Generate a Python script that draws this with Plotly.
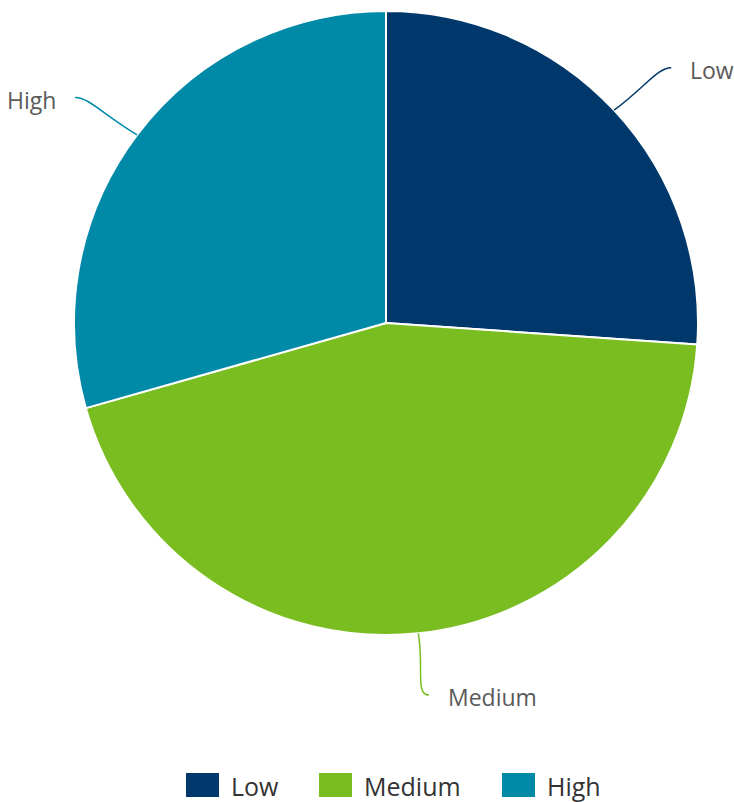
import math
import plotly.graph_objects as go

categories = ["Low", "Medium", "High"]
values = [26.1, 44.5, 29.4]
colors = ["#00386B", "#7ABD21", "#008AA8"]

W, H = 734, 802
CX, CY, R = 386, 323, 312

def px(x):
    return x / W

def py(y):
    return 1 - y / H

fig = go.Figure()
fig.add_trace(go.Pie(
    labels=categories, values=values, sort=False, direction="clockwise", rotation=0,
    marker=dict(colors=colors, line=dict(color="white", width=2)),
    textinfo="none", hoverinfo="label+value", showlegend=False,
    domain=dict(x=[px(CX - R), px(CX + R)], y=[py(CY + R), py(CY - R)]),
))

shapes = []
annotations = []
total = sum(values)
cum = 0.0
for cat, v, col in zip(categories, values, colors):
    mid = (cum + v / 2) / total * 2 * math.pi
    cum += v
    s, c = math.sin(mid), -math.cos(mid)
    sign = 1 if s >= 0 else -1
    x0, y0 = CX + R * s, CY + R * c
    ex, ey = CX + 386 * s + sign * 3, CY + 374 * c
    c1x, c1y = x0 + 0.55 * (ex - x0), y0 + 0.55 * (ey - y0)
    c2x, c2y = ex - sign * 14, ey
    path = (f"M {px(x0)},{py(y0)} C {px(c1x)},{py(c1y)} {px(c2x)},{py(c2y)} {px(ex)},{py(ey)}")
    shapes.append(dict(type="path", path=path, xref="paper", yref="paper",
                       line=dict(color=col, width=1.5)))
    annotations.append(dict(
        x=px(ex + sign * 17), y=py(ey + 2.5), xref="paper", yref="paper",
        text=cat, showarrow=False, xanchor="left" if sign > 0 else "right", yanchor="middle",
        font=dict(family="Open Sans", size=23, color="#5a5a5a")))

# legend
leg_x = [186, 319, 502]
for cat, col, lx in zip(categories, colors, leg_x):
    shapes.append(dict(type="rect", xref="paper", yref="paper",
                       x0=px(lx), x1=px(lx + 33), y0=py(797), y1=py(773),
                       fillcolor=col, line=dict(width=0)))
    annotations.append(dict(
        x=px(lx + 43), y=py(786), xref="paper", yref="paper", text=cat, showarrow=False,
        xanchor="left", yanchor="middle",
        font=dict(family="Open Sans", size=25, color="#333333")))

fig.update_layout(
    width=W, height=H, margin=dict(l=0, r=0, t=0, b=0),
    paper_bgcolor="white", plot_bgcolor="white",
    shapes=shapes, annotations=annotations, showlegend=False,
)
fig.write_html("out.html", config={"displayModeBar": False},
               post_script="document.body.style.margin='0';document.body.style.overflow='hidden';")
